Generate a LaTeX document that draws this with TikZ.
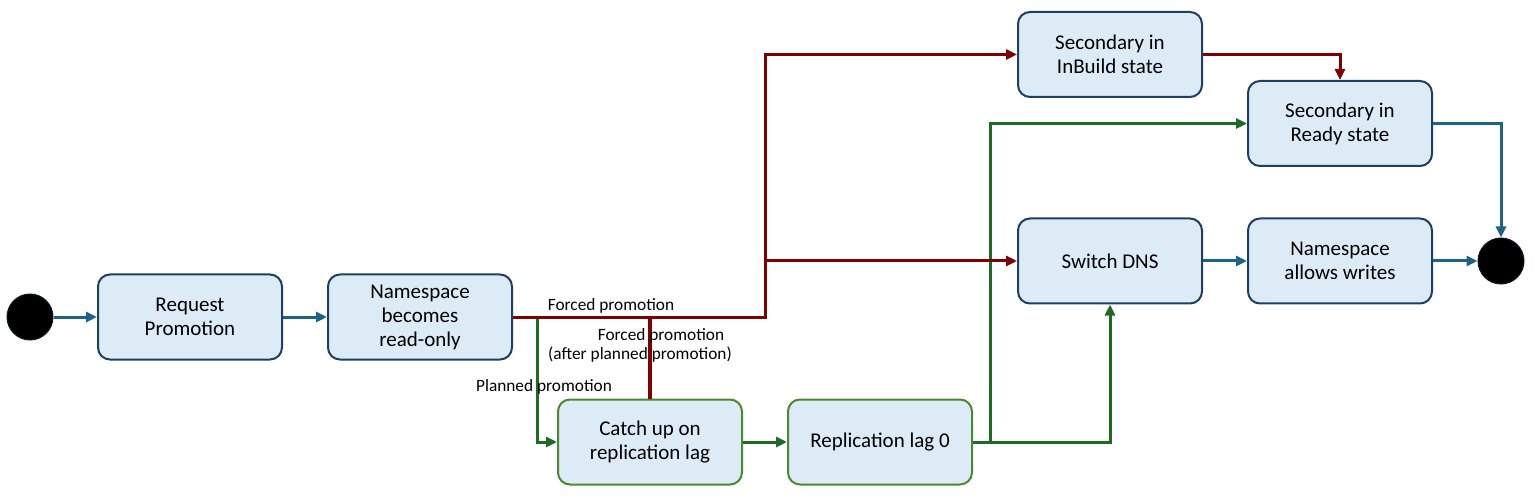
\documentclass[tikz,border=0pt]{standalone}
\usepackage{fontspec}
\setmainfont{Carlito}
\usetikzlibrary{arrows.meta}
\definecolor{nodefill}{HTML}{DDEBF7}
\definecolor{nodeblue}{HTML}{1F3E64}
\definecolor{nodegreen}{HTML}{4A8A2E}
\definecolor{cblue}{HTML}{1B6389}
\definecolor{cred}{HTML}{800000}
\definecolor{cgreen}{HTML}{1E6B24}
\begin{document}
\begin{tikzpicture}[x=1pt,y=-1pt,
  state/.style={draw=nodeblue, fill=nodefill, line width=2pt, rounded corners=12pt,
    minimum width=184pt, minimum height=85pt, align=center, inner sep=0pt,
    font=\fontsize{21}{24}\selectfont},
  gstate/.style={state, draw=nodegreen},
  dot/.style={circle, fill=black, draw=black!70!cblue, line width=1pt, minimum size=46pt, inner sep=0pt},
  conn/.style={line width=3pt, -{Triangle[length=11pt,width=10pt]}},
  plain/.style={line width=3.5pt},
  lbl/.style={font=\fontsize{17.3}{20}\selectfont, inner sep=0pt}
]
\useasboundingbox (0,0) rectangle (1535,497);

\node[dot] (start) at (30,317) {};
\node[state] (req) at (190,317) {Request\\Promotion};
\node[state] (nro) at (420,317) {Namespace\\becomes\\read-only};
\node[gstate] (catch) at (650,442) {Catch up on\\replication lag};
\node[gstate] (rep) at (880,442) {Replication lag 0};
\node[state] (inbuild) at (1110,54.5) {Secondary in\\InBuild state};
\node[state] (ready) at (1340,123.5) {Secondary in\\Ready state};
\node[state] (dns) at (1110,261) {Switch DNS};
\node[state] (writes) at (1340,261) {Namespace\\allows writes};
\node[dot] (end) at (1501,261) {};

\coordinate (g1) at (537,317);
\coordinate (j1) at (765,317);
\coordinate (j2) at (765,261);
\coordinate (g2) at (990,441);

% blue
\draw[conn,cblue] (start) -- (req);
\draw[conn,cblue] (req) -- (nro);
\draw[conn,cblue] (dns) -- (writes);
\draw[conn,cblue] (writes) -- (end);
\draw[conn,cblue] (ready.east) -| (end.north);

% green
\draw[conn,cgreen] (nro.east) -- (g1) |- (catch.west);
\draw[conn,cgreen] (catch) -- (rep);
\draw[conn,cgreen] (rep.east) -| (dns.south);
\draw[conn,cgreen] (g2) |- (ready.west);

% red
\draw[conn,cred] (nro.east) -- (j1) |- (inbuild.west);
\draw[conn,cred] (j2) -- (dns.west);
\draw[plain,cred] (catch.north) -- (catch.north |- nro.east);
\draw[conn,cred] (inbuild.east) -| (ready.north);

% labels
\node[lbl] (lf1) at (611,306) {Forced promotion};
\node[lbl] (lf2) at (661,336) {Forced promotion};
\node[lbl] (lf3) at (640,355) {(after planned promotion)};
\node[lbl] (lp) at (544,387) {Planned promotion};
\end{tikzpicture}
\end{document}
